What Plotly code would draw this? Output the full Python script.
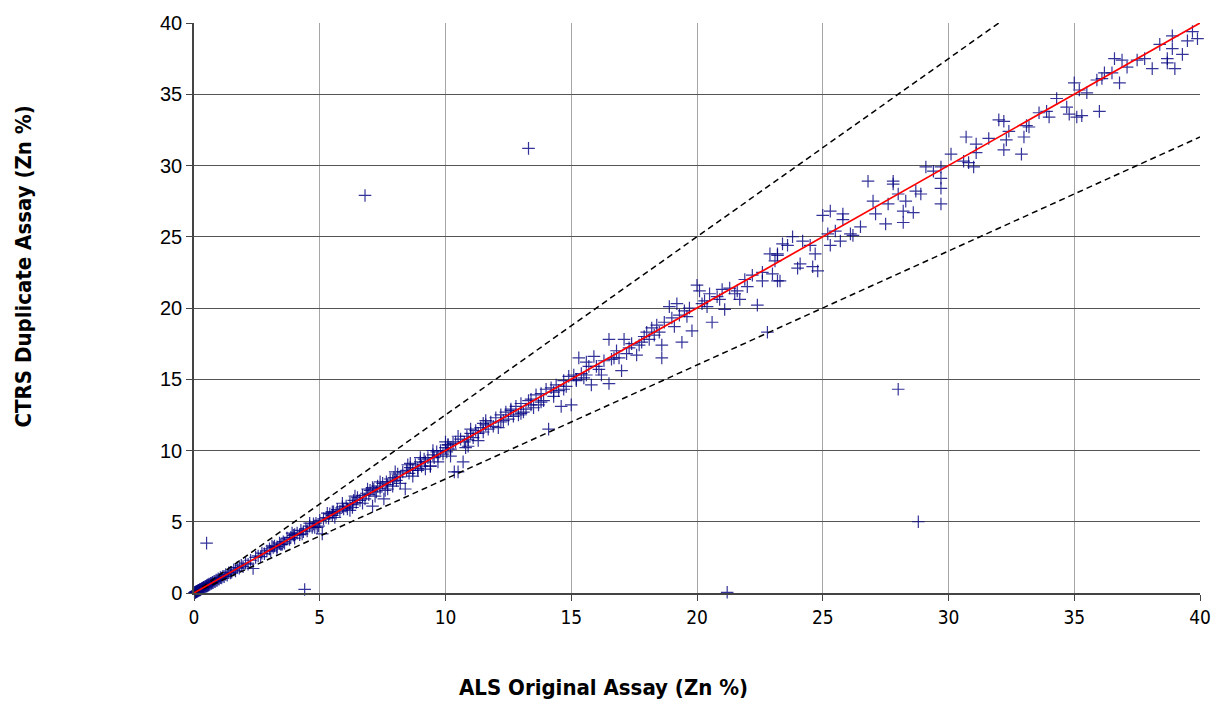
import plotly.graph_objects as go

# ALS original vs CTRS duplicate Zn assays (%)
als_low = [0.02,0.04,0.05,0.07,0.08,0.1,0.11,0.13,0.15,0.16,0.18,0.2,0.22,0.24,0.25,0.27,0.3,0.32,0.34,0.36,0.38,0.4,0.43,0.45,0.48,0.5,0.53,0.55,0.58,0.6,0.63,0.66,0.7,0.73,0.76,0.8,0.84,0.88,0.92,0.96,1.0,1.05,1.1,1.15,1.2,1.26,1.32,1.38,1.45,1.5,1.58,1.65,1.72,1.8,1.88,1.95,2.05,2.15,2.25,2.35,2.45]
ctrs_low = [0.03,0.05,0.04,0.08,0.07,0.11,0.1,0.12,0.16,0.15,0.19,0.18,0.23,0.22,0.26,0.25,0.31,0.3,0.35,0.33,0.4,0.39,0.42,0.47,0.46,0.52,0.5,0.57,0.55,0.62,0.6,0.68,0.67,0.75,0.72,0.82,0.8,0.9,0.88,0.99,0.97,1.08,1.05,1.18,1.15,1.3,1.25,1.42,1.4,1.46,1.62,1.55,1.78,1.74,1.95,1.85,2.1,2.02,2.3,1.72,2.5]

als_mid = [2.55,2.65,2.7,2.8,2.9,3.0,3.05,3.15,3.2,3.3,3.4,3.45,3.55,3.6,3.7,3.8,3.85,3.95,4.0,4.1,4.2,4.25,4.35,4.45,4.5,4.6,4.7,4.75,4.85,4.95,5.0,5.1,5.15,5.25,5.35,5.4,5.5,5.55,5.65,5.7,5.8,5.9,5.95]
ctrs_mid = [2.6,2.55,2.8,2.75,2.95,3.1,2.95,3.2,3.3,3.25,3.5,3.4,3.6,3.5,3.85,3.75,3.9,4.05,3.85,4.2,4.1,4.4,4.3,4.5,4.35,4.7,4.6,4.85,4.9,4.7,5.1,4.15,5.2,5.3,5.25,5.55,5.45,5.7,5.6,5.85,5.75,6.05,5.9]

als_upper_mid = [6.05,6.1,6.2,6.3,6.35,6.45,6.5,6.6,6.7,6.8,6.85,6.95,7.0,7.1,7.15,7.25,7.3,7.4,7.5,7.55,7.65,7.7,7.8,7.9,7.95,8.05,8.1,8.2,8.3,8.4,8.45,8.55,8.6,8.7,8.8,8.9,9.0,9.05,9.15,9.2,9.3,9.4,9.5,9.55,9.65,9.7,9.8,9.9,10.0,10.05,10.1,10.2,10.3,10.35,10.4,10.5,10.6,10.7,10.75,10.85,10.9,11.0,11.1,11.2,11.3,11.4,11.5,11.6,11.7,11.8,11.9]
ctrs_upper_mid = [6.1,5.9,6.3,6.2,6.5,6.35,6.7,6.5,6.85,6.6,7.0,6.9,7.2,6.1,7.3,7.1,7.5,7.35,7.7,6.6,7.8,7.6,8.0,7.85,8.1,7.9,8.35,8.15,8.5,7.3,8.6,8.4,8.8,8.6,9.0,8.75,9.2,8.9,9.4,9.2,9.5,8.9,9.7,9.5,9.9,9.6,10.0,9.75,10.2,9.9,10.4,10.1,10.5,8.5,10.6,8.5,10.8,9.2,10.6,11.0,10.75,11.2,10.9,11.4,11.2,11.6,11.3,11.8,11.5,12.0,11.7]

# extra scatter in the dense 3-12 % band
als_band = [3.1,3.5,3.9,4.3,4.6,4.9,5.3,5.6,5.9,6.2,6.4,6.7,6.9,7.2,7.4,7.7,8.0,8.2,8.5,8.7,9.0,9.2,9.5,9.7,10.0,10.2,10.5,10.8,11.0,11.3,11.6,3.3,4.0,4.8,5.5,6.3,7.1,7.9,8.6,9.4,10.1,10.9,11.5,7.6,8.9]
ctrs_band = [3.3,3.4,4.2,4.15,4.9,4.6,5.6,5.3,6.3,5.8,6.8,6.3,7.3,6.8,7.8,7.3,8.5,7.7,9.0,8.2,9.5,8.7,10.0,9.2,10.6,9.6,11.0,10.2,11.5,10.7,12.1,3.1,4.1,4.6,5.7,6.0,7.4,7.5,9.1,8.9,10.4,10.3,11.9,7.2,8.6]

als_high = [12.0,12.1,12.2,12.3,12.4,12.5,12.6,12.7,12.8,12.9,13.0,13.1,13.2,13.3,13.4,13.5,13.6,13.7,13.8,13.9,14.0,14.1,14.2,14.3,14.4,14.5,14.6,14.7,14.8,14.9,15.0,15.1,15.2,15.3,15.4,15.5,15.6,15.7,15.8,15.9,16.0,16.2,16.3,16.5,16.6,16.8,16.9,17.0,17.1,
            17.3,17.4,17.6,17.8,17.9,18.0,18.2,18.3,18.4,18.6,18.6,18.7,18.9,19.0,19.2,19.3,19.4,19.5,19.7,19.8,20.0,20.1,20.2,20.3,20.5,20.6,20.8,21.0,21.1,21.3,21.5,21.7,21.9,22.0,22.2,22.4,22.6,22.8,22.9,23.2,23.2,22.6,16.5,
            12.2,12.6,13.0,13.4,13.8,14.3,14.7,15.2,15.6,16.1,16.7,17.2,17.7,18.1,18.5,19.1,19.6,20.4,20.9,21.6]
ctrs_high = [12.3,11.6,12.5,12.1,12.7,12.2,12.9,12.4,13.1,12.5,13.3,12.7,12.9,13.5,13.6,13.0,13.9,13.2,14.0,13.5,14.3,11.5,14.4,13.8,14.6,14.2,13.1,14.9,14.5,15.2,13.2,15.3,14.9,16.5,15.4,15.1,16.2,15.9,14.6,16.6,15.9,15.3,16.3,14.7,16.4,17.0,16.5,15.6,17.8,
             17.2,17.5,16.7,17.6,18.0,18.3,18.6,18.1,18.8,17.4,16.5,19.0,20.1,19.3,20.3,19.5,17.6,19.8,20.0,18.4,21.6,21.2,20.3,20.5,21.0,19.0,20.8,21.3,19.9,21.4,21.0,20.6,22.0,21.5,22.3,20.2,22.5,18.3,23.8,23.7,21.9,21.9,17.8,
             12.0,12.8,12.6,13.2,13.4,14.1,14.3,15.0,15.3,15.7,16.5,16.8,17.4,17.8,18.3,18.7,19.4,20.1,20.6,21.2]

als_top = [23.0,23.3,23.1,23.2,23.4,23.6,23.8,24.0,24.1,24.2,24.5,24.7,24.6,24.8,25.3,25.2,25.5,25.0,25.3,25.8,25.8,25.7,26.2,26.1,26.5,26.8,27.1,27.0,27.6,27.5,28.2,28.2,28.3,28.6,28.0,27.8,27.8,28.9,28.7,29.7,29.7,29.7,29.4,29.1,29.7,30.1,31.0,30.8,30.6,30.7,31.1,31.1,31.6,32.2,32.0,32.2,32.3,32.4,32.9,33.0,33.2,33.1,33.6,34.0,33.9,34.3,36.0,35.3,35.1,34.8,34.7,35.5,35.2,35.0,35.9,36.8,36.1,36.2,36.5,37.1,36.6,36.9,37.5,38.1,37.8,39.0,38.7,38.7,39.3,38.4,38.9,39.5,39.9,39.7,38.9]
ctrs_top = [22.4,21.9,23.3,23.8,24.5,24.4,25.0,22.8,23.1,24.7,24.4,23.8,22.9,22.6,24.4,25.2,25.4,26.5,26.8,26.2,26.6,24.7,25.1,25.2,25.7,28.9,26.6,27.5,27.3,25.9,26.0,26.8,27.5,26.7,28.0,28.7,28.9,28.0,28.2,27.3,28.4,29.1,29.6,29.9,29.9,30.8,29.9,30.2,30.3,32.0,30.9,31.5,31.9,31.1,33.2,33.1,31.8,32.4,30.8,32.0,32.7,32.8,33.7,33.4,33.8,34.7,33.8,33.5,33.4,33.6,34.1,35.1,35.3,35.8,36.0,35.8,36.1,36.5,36.5,36.9,37.5,37.4,37.4,36.8,37.5,36.8,37.2,37.5,37.8,38.5,38.2,38.75,38.9,39.4,39.1]

als_outliers = [0.5, 4.4, 6.8, 13.3, 21.2, 28.0, 28.8]
ctrs_outliers = [3.5, 0.25, 27.9, 31.2, 0.05, 14.3, 5.0]

als = als_low + als_mid + als_band + als_upper_mid + als_high + als_top + als_outliers
ctrs = ctrs_low + ctrs_mid + ctrs_band + ctrs_upper_mid + ctrs_high + ctrs_top + ctrs_outliers

# Reference lines: 1:1 and +/-20% bounds
one_to_one = [0, 40]
upper_x = [0, 32]
upper_y = [0, 40]
lower_x = [0, 40]
lower_y = [0, 32]

navy = "rgba(0,0,128,0.8)"
narrow = "DejaVu Sans Condensed, Liberation Sans Narrow, Arial Narrow, Liberation Sans, sans-serif"
regular = "Liberation Sans, Arial, sans-serif"

fig = go.Figure()
fig.add_trace(go.Scatter(
    x=als, y=ctrs, mode="markers",
    marker=dict(symbol="cross-thin", size=9, line=dict(color=navy, width=1.2)),
    showlegend=False, cliponaxis=False,
))
fig.add_trace(go.Scatter(x=upper_x, y=upper_y, mode="lines",
                         line=dict(color="black", width=1.5, dash="6px,4px"), showlegend=False))
fig.add_trace(go.Scatter(x=lower_x, y=lower_y, mode="lines",
                         line=dict(color="black", width=1.5, dash="6px,4px"), showlegend=False))
fig.add_trace(go.Scatter(x=one_to_one, y=one_to_one, mode="lines",
                         line=dict(color="red", width=1.7), showlegend=False))

# plot area spans pixels x 194..1200, y 17..593
def px_x(p):
    return (p - 194) / (1200 - 194)

def px_y(p):
    return (593 - p) / (593 - 17)

fig.update_layout(
    width=1225, height=704,
    margin=dict(l=194, r=25, t=17, b=111),
    plot_bgcolor="white", paper_bgcolor="white",
    xaxis=dict(range=[0, 40], tickvals=[0, 5, 10, 15, 20, 25, 30, 35, 40],
               showgrid=True, gridcolor="#a6a6a6", gridwidth=1,
               showline=True, linecolor="#444", linewidth=1.5,
               ticks="outside", ticklen=6, tickcolor="#444",
               tickfont=dict(family=narrow, size=19, color="black"),
               zeroline=False, fixedrange=True),
    yaxis=dict(range=[0, 40], tickvals=[0, 5, 10, 15, 20, 25, 30, 35, 40],
               showgrid=True, gridcolor="#555", gridwidth=1,
               showline=True, linecolor="#444", linewidth=1.5,
               ticks="outside", ticklen=6, tickcolor="#444",
               tickfont=dict(family=regular, size=20, color="black"),
               zeroline=False, fixedrange=True),
    annotations=[
        dict(text="<b>ALS Original Assay (Zn %)</b>", x=px_x(603), y=px_y(688),
             xref="paper", yref="paper", showarrow=False, xanchor="center", yanchor="middle",
             font=dict(family=narrow, size=22, color="black")),
        dict(text="<b>CTRS Duplicate Assay (Zn %)</b>", textangle=-90, x=px_x(23), y=px_y(263),
             xref="paper", yref="paper", showarrow=False, xanchor="center", yanchor="middle",
             font=dict(family=narrow, size=22, color="black")),
    ],
)

fig.write_html("out.html")
